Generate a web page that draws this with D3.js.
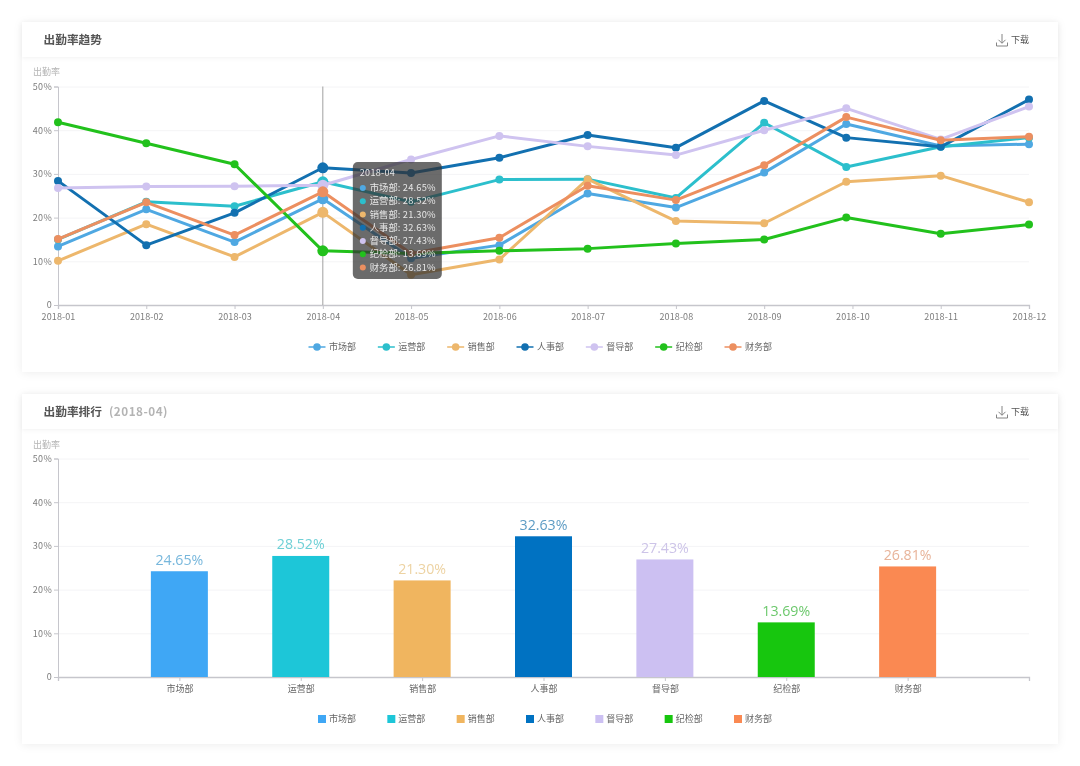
<!DOCTYPE html>
<html lang="zh"><head><meta charset="utf-8">
<script src="https://cdn.jsdelivr.net/npm/d3@7"></script>
<style>
html,body{margin:0;padding:0;background:#fff;}
svg{display:block;filter:blur(.4px);}
text{font-family:"Noto Sans CJK SC","Noto Sans",sans-serif;}
</style></head><body>
<svg id="c" width="1080" height="766"></svg>
<script>
const months=["2018-01","2018-02","2018-03","2018-04","2018-05","2018-06","2018-07","2018-08","2018-09","2018-10","2018-11","2018-12"];
const monthPositions=[0,1,2,3,4,5,6,7,8,8.93,10,11];
const departments=["市场部","运营部","销售部","人事部","督导部","纪检部","财务部"];
const shichang=[13.4,21.9,14.4,24.3,10.7,13.7,25.5,22.3,30.3,41.4,36.4,36.8];
const yunying=[15,23.6,22.6,28.2,23.6,28.7,28.8,24.5,41.7,31.6,36.2,38.3];
const xiaoshou=[10.1,18.5,11,21.2,6.9,10.4,28.8,19.2,18.7,28.2,29.6,23.5];
const renshi=[28.4,13.7,21.1,31.4,30.2,33.7,38.9,36,46.7,38.3,36.2,47];
const dudao=[26.8,27.1,27.2,27.4,33.3,38.7,36.3,34.3,40,45,37.9,45.4];
const jijian=[41.8,37,32.2,12.4,11.8,12.4,12.9,14.1,15,20,16.3,18.4];
const caiwu=[15.1,23.5,16,25.9,11.8,15.4,27.3,24,32,43,37.7,38.5];
const barHeights=[24.2,27.7,22.1,32.2,26.9,12.5,25.3];
const rateLabels=["24.65%","28.52%","21.30%","32.63%","27.43%","13.69%","26.81%"];
const yTicks=[0,10,20,30,40,50];
const lineColors=["#4fa8e2","#2cbfcc","#edb76c","#1270b0","#cfc3f0","#22c11c","#ec8f60"];
const barColors=["#3fa7f5","#1dc6d8","#f0b55f","#0072c2","#ccc0f2","#17c60e","#fa8952"];
const labelColors=["#77b7dc","#6fd0d6","#edd3a3","#5d9cc4","#cdc4e8","#6cc86c","#e8b49a"];
const lineSeries=[shichang,yunying,xiaoshou,renshi,dudao,jijian,caiwu];
const activeMonth=3;

const svg=d3.select("#c");
const defs=svg.append("defs");
const sh=defs.append("filter").attr("id","sh").attr("x","-5%").attr("y","-10%").attr("width","110%").attr("height","120%");
sh.append("feDropShadow").attr("dx",0).attr("dy",1).attr("stdDeviation",4).attr("flood-color","#000").attr("flood-opacity",.07);
const sh2=defs.append("filter").attr("id","sh2").attr("x","-2%").attr("y","-20%").attr("width","104%").attr("height","160%");
sh2.append("feDropShadow").attr("dx",0).attr("dy",1).attr("stdDeviation",2).attr("flood-color","#000").attr("flood-opacity",.05);

const L=58,R=1029;
const gridC="#f4f4f6",axisC="#c6c6cc",tickC="#7d7d7d";

function card(top,title,sub){
  const g=svg.append("g");
  g.append("rect").attr("x",22).attr("y",top).attr("width",1036).attr("height",350).attr("fill","#fff").attr("filter","url(#sh)");
  g.append("rect").attr("x",22).attr("y",top).attr("width",1036).attr("height",35).attr("fill","#fff").attr("filter","url(#sh2)");
  const t=g.append("text").attr("x",43.5).attr("y",top+22).attr("font-size",11.7).attr("font-weight",700).attr("fill","#555").text(title);
  if(sub) t.append("tspan").attr("dx",7).attr("fill","#b4b4b4").attr("letter-spacing",.5).text(sub);
  const ic=g.append("g").attr("transform",`translate(996.5,${top+12})`).attr("fill","none").attr("stroke","#777").attr("stroke-width",.9);
  ic.append("path").attr("d","M5.5 0V9M2 5.8L5.5 9.3L9 5.8M0 8.5V12H11V8.5");
  g.append("text").attr("x",1011).attr("y",top+21).attr("font-size",9).attr("fill","#555").text("下载");
}

function yAxis(g,y){
  g.selectAll(".grid").data(yTicks.slice(1)).join("line").attr("x1",L).attr("x2",R)
    .attr("y1",d=>y(d)+.5).attr("y2",d=>y(d)+.5).attr("stroke",gridC);
  const ax=g.append("g").attr("transform",`translate(${L},0)`)
    .call(d3.axisLeft(y).tickValues(yTicks).tickSize(4).tickPadding(2).tickFormat(d=>d===0?"0":d+"%"));
  ax.selectAll("path,line").attr("stroke",axisC);
  ax.selectAll("text").attr("fill",tickC).attr("font-size",9).attr("font-family",'"Noto Sans CJK SC"').attr("letter-spacing",.3);
  return ax;
}

/* chart 1 */
card(22,"出勤率趋势");
const g1=svg.append("g");
const y1=d3.scaleLinear().domain([0,50]).range([305,86.5]);
const x1=d3.scaleLinear().domain([0,11]).range([L,R]);
g1.append("text").attr("x",33).attr("y",75).attr("font-size",9).attr("fill","#b5b5b5").text("出勤率");
yAxis(g1,y1);
const xa1=g1.append("g").attr("transform","translate(0,305)")
  .call(d3.axisBottom(x1).tickValues(d3.range(12)).tickSize(4).tickPadding(5).tickFormat(i=>months[i]));
xa1.selectAll("path,line").attr("stroke",axisC);
xa1.select("path").attr("stroke-width",1.3);
xa1.selectAll("text").attr("fill",tickC).attr("font-size",9).attr("font-family",'"Noto Sans CJK SC"').attr("letter-spacing",.1);
g1.append("line").attr("x1",x1(activeMonth)).attr("x2",x1(activeMonth)).attr("y1",y1(50)).attr("y2",y1(0)).attr("stroke","#a0a0a0").attr("stroke-width",1);
const line=d3.line().x((d,i)=>x1(monthPositions[i])).y(d=>y1(d));
lineSeries.forEach((s,k)=>{
  g1.append("path").datum(s).attr("d",line).attr("fill","none").attr("stroke",lineColors[k]).attr("stroke-width",3).attr("stroke-linejoin","round");
  g1.selectAll(null).data(s).join("circle").attr("cx",(d,i)=>x1(monthPositions[i])).attr("cy",d=>y1(d))
    .attr("r",(d,i)=>i===activeMonth?5.5:4).attr("fill",lineColors[k]);
});
/* tooltip */
const tipLeft=x1(activeMonth)+30,tipTop=162;
const tip=svg.append("g").attr("transform",`translate(${tipLeft},${tipTop})`);
tip.append("rect").attr("width",89).attr("height",117).attr("rx",5).attr("fill","#323232").attr("fill-opacity",.72);
tip.append("text").attr("x",7).attr("y",14).attr("font-size",9).attr("fill","#e8e8e8").attr("letter-spacing",.3).text(months[activeMonth]);
departments.forEach((d,k)=>{
  const yy=26+k*13.25;
  tip.append("circle").attr("cx",10).attr("cy",yy).attr("r",3).attr("fill",lineColors[k]);
  tip.append("text").attr("x",17).attr("y",yy+3.2).attr("font-size",9.3).attr("fill","#e6e6e6").text(d+":");
  tip.append("text").attr("x",83).attr("y",yy+3.2).attr("text-anchor","end").attr("font-size",9.3).attr("fill","#e6e6e6").attr("letter-spacing",.2).text(rateLabels[k]);
});
/* legend 1 */
const legendX=d3.scalePoint().domain(departments).range([308.5,724.5]);
departments.forEach((d,k)=>{
  const x=legendX(d),g=g1.append("g").attr("transform",`translate(${x},347)`);
  g.append("line").attr("x1",0).attr("x2",17).attr("stroke",lineColors[k]).attr("stroke-width",1.5);
  g.append("circle").attr("cx",8.5).attr("r",3.8).attr("fill",lineColors[k]);
  g.append("text").attr("x",20.5).attr("y",3.2).attr("font-size",9).attr("fill","#666").text(d);
});

/* chart 2 */
card(394,"出勤率排行","(2018-04)");
const g2=svg.append("g");
const y2=d3.scaleLinear().domain([0,50]).range([677,458.5]);
const x2=d3.scalePoint().domain(departments).range([L,R]).padding(1);
g2.append("text").attr("x",33).attr("y",448).attr("font-size",9).attr("fill","#b5b5b5").text("出勤率");
yAxis(g2,y2);
const xa2=g2.append("g").attr("transform","translate(0,677)")
  .call(d3.axisBottom(x2).tickSize(4).tickPadding(5));
xa2.selectAll("path,line").attr("stroke",axisC);
xa2.select("path").attr("stroke-width",1.3);
xa2.selectAll("text").attr("fill","#666").attr("font-size",9).attr("font-family",'"Noto Sans CJK SC"');
const barW=57;
g2.selectAll(".bar").data(barHeights).join("rect").attr("class","bar")
  .attr("x",(d,i)=>x2(departments[i])-barW/2).attr("width",barW)
  .attr("y",d=>y2(d)).attr("height",d=>y2(0)-y2(d)).attr("fill",(d,i)=>barColors[i]);
g2.selectAll(".val").data(barHeights).join("text").attr("class","val")
  .attr("x",(d,i)=>x2(departments[i])).attr("y",d=>y2(d)-6.5).attr("text-anchor","middle")
  .style("font-family",'"Open Sans","Noto Sans CJK SC"')
  .attr("font-size",14.2).attr("fill",(d,i)=>labelColors[i]).text((d,i)=>rateLabels[i]);
departments.forEach((d,k)=>{
  const x=legendX(d),g=g2.append("g").attr("transform",`translate(${x},719)`);
  g.append("rect").attr("x",9.5).attr("y",-4).attr("width",8).attr("height",8).attr("fill",barColors[k]);
  g.append("text").attr("x",20.5).attr("y",3.2).attr("font-size",9).attr("fill","#666").text(d);
});
</script></body></html>
